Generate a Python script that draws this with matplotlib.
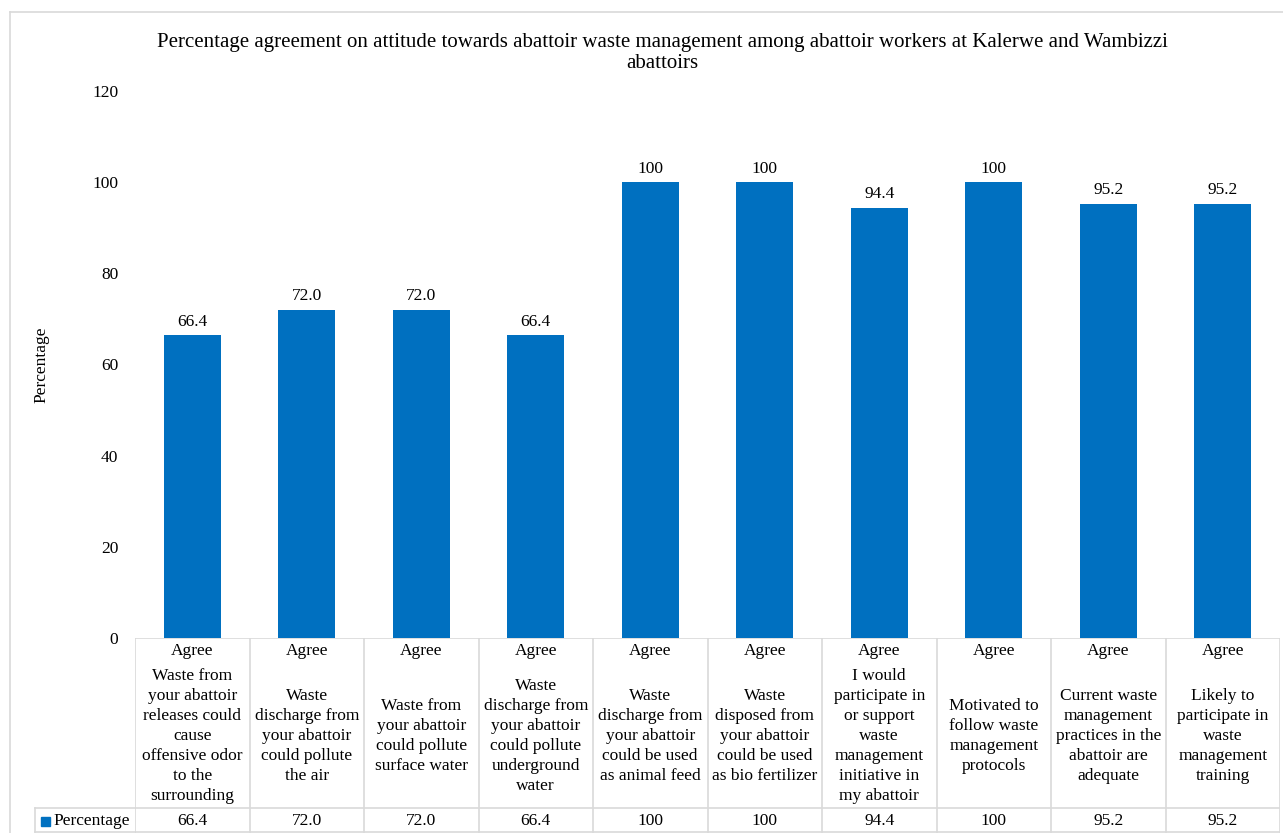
import matplotlib.pyplot as plt
from matplotlib.lines import Line2D
from matplotlib.patches import Rectangle

plt.rcParams['font.family'] = ['Liberation Serif', 'DejaVu Serif']

# Data
categories = [
    "Waste from\nyour abattoir\nreleases could\ncause\noffensive odor\nto the\nsurrounding",
    "Waste\ndischarge from\nyour abattoir\ncould pollute\nthe air",
    "Waste from\nyour abattoir\ncould pollute\nsurface water",
    "Waste\ndischarge from\nyour abattoir\ncould pollute\nunderground\nwater",
    "Waste\ndischarge from\nyour abattoir\ncould be used\nas animal feed",
    "Waste\ndisposed from\nyour abattoir\ncould be used\nas bio fertilizer",
    "I would\nparticipate in\nor support\nwaste\nmanagement\ninitiative in\nmy abattoir",
    "Motivated to\nfollow waste\nmanagement\nprotocols",
    "Current waste\nmanagement\npractices in the\nabattoir are\nadequate",
    "Likely to\nparticipate in\nwaste\nmanagement\ntraining",
]
response = ["Agree"] * 10
values = [66.4, 72.0, 72.0, 66.4, 100, 100, 94.4, 100, 95.2, 95.2]
value_labels = ["66.4", "72.0", "72.0", "66.4", "100", "100", "94.4", "100", "95.2", "95.2"]
series_name = "Percentage"

W, H = 1283, 833
fig = plt.figure(figsize=(W / 100, H / 100), dpi=100)

bar_color = "#0070C0"
grid_color = "#D9D9D9"
fs = 12.5

# plot area in pixels
x0, x1 = 135, 1280
y_top, y_zero = 91, 638
ax = fig.add_axes([x0 / W, (H - y_zero) / H, (x1 - x0) / W, (y_zero - y_top) / H])
n = len(values)
xs = list(range(n))
ax.bar(xs, values, width=0.5, color=bar_color)
for x, v, lab in zip(xs, values, value_labels):
    ax.annotate(lab, (x, v), xytext=(0, 4), textcoords="offset points",
                ha="center", va="bottom", fontsize=fs)
ax.set_xlim(-0.5, n - 0.5)
ax.set_ylim(0, 120)
ax.set_yticks(range(0, 121, 20))
ax.tick_params(axis="y", length=0, labelsize=fs, pad=12)
ax.set_xticks([])
for s in ax.spines.values():
    s.set_visible(False)
fig.text(41 / W, (H - 365) / H, "Percentage", rotation=90, ha="center", va="center", fontsize=fs)

# data table below the plot
tab = fig.add_axes([x0 / W, 0, (x1 - x0) / W, (H - y_zero) / H])
tab.set_xlim(-0.5, n - 0.5)
tab.set_ylim(0, H - y_zero)
tab.axis("off")
row_y = H - 808
tab.add_line(Line2D([-0.5, n - 0.5], [H - y_zero, H - y_zero], color=grid_color, lw=1.2))
tab.add_line(Line2D([-0.5, n - 0.5], [row_y, row_y], color=grid_color, lw=1.2))
tab.add_line(Line2D([-0.5, n - 0.5], [1, 1], color=grid_color, lw=1.2))
for i in range(n + 1):
    tab.add_line(Line2D([i - 0.5, i - 0.5], [0, H - y_zero], color=grid_color, lw=1.2))
for x, r, c, lab in zip(xs, response, categories, value_labels):
    tab.text(x, H - 651, r, ha="center", va="center", fontsize=fs)
    tab.text(x, H - 736, c, ha="center", va="center", fontsize=fs, linespacing=1.33)
    tab.text(x, H - 821, lab, ha="center", va="center", fontsize=fs)

# legend cell on the left of the data row
lx0 = 35 / W
fig.add_artist(Line2D([lx0, x0 / W], [row_y / H, row_y / H], color=grid_color, lw=1.2))
fig.add_artist(Line2D([lx0, x0 / W], [1 / H, 1 / H], color=grid_color, lw=1.2))
fig.add_artist(Line2D([lx0, lx0], [1 / H, row_y / H], color=grid_color, lw=1.2))
fig.add_artist(Rectangle((41 / W, (H - 826) / H), 9 / W, 9 / H, color=bar_color))
fig.text(53 / W, (H - 821) / H, series_name, ha="left", va="center", fontsize=fs)

# chart area border
fig.add_artist(Line2D([10 / W, 10 / W], [0, (H - 12) / H], color=grid_color, lw=1.2))
fig.add_artist(Line2D([10 / W, 1], [(H - 12) / H, (H - 12) / H], color=grid_color, lw=1.2))

fig.text(662 / W, (H - 53) / H,
         "Percentage agreement on attitude towards abattoir waste management among abattoir workers at Kalerwe and Wambizzi\nabattoirs",
         ha="center", va="center", fontsize=15, linespacing=1.2)

fig.savefig("out.png", dpi=100)
